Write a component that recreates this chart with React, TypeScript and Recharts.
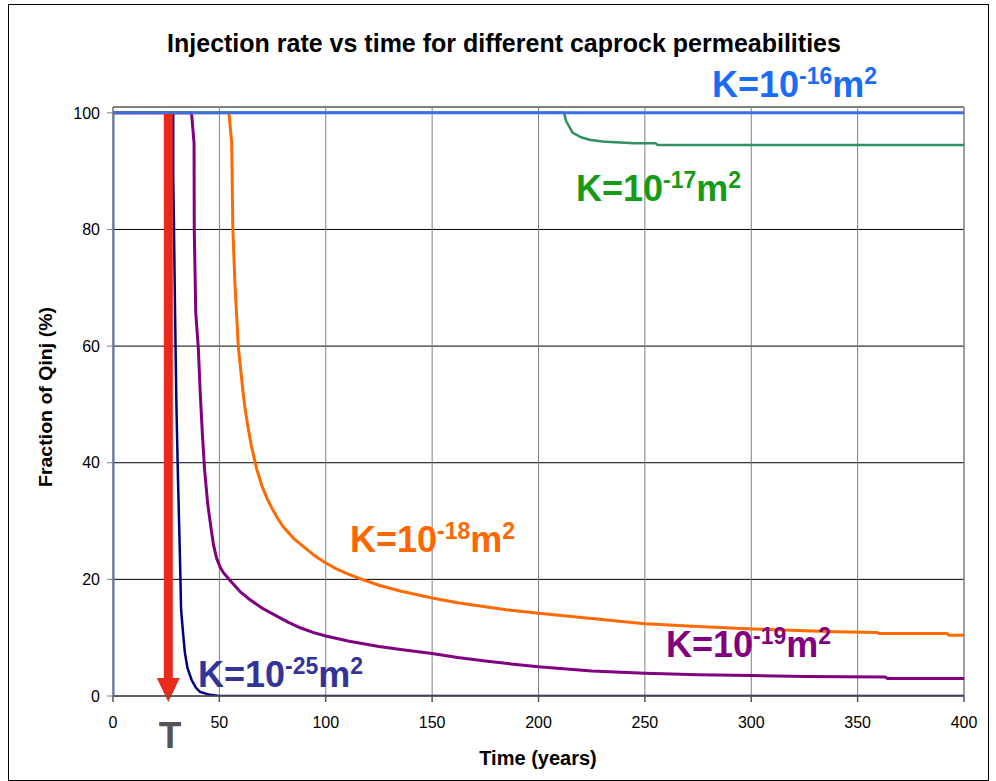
import { CartesianGrid, Line, LineChart, ReferenceArea, ReferenceLine, XAxis, YAxis } from "recharts";

const FONT = "'Liberation Sans', Arial, sans-serif";

const xTicks = [0, 50, 100, 150, 200, 250, 300, 350, 400];
const yTicks = [0, 20, 40, 60, 80, 100];

// K = 1e-16 m2
const k16Time = [0, 0, 400];
const k16Frac = [0, 100, 100];

// K = 1e-17 m2
const k17Time = [0, 212, 213, 216, 220, 224, 230, 234, 245, 255, 256, 300, 350, 400];
const k17Frac = [100, 100, 98.6, 96.6, 95.8, 95.4, 95.1, 95.0, 94.8, 94.8, 94.5, 94.5, 94.5, 94.5];

// K = 1e-18 m2
const k18Time = [0, 54.5, 55.8, 56.3, 57.3, 58.9, 60, 61, 62, 63.5, 65, 67.5, 70, 72.5, 75, 77.5, 80, 85, 90, 95, 100, 105, 110, 117, 125, 135, 150, 162, 175, 187, 200, 225, 250, 275, 300, 325, 340, 359, 360, 392, 393, 400];
const k18Frac = [100, 100, 94.8, 80.5, 70.8, 59.9, 56, 52.5, 49.5, 46, 43, 39, 36, 33.8, 32, 30.4, 29, 27, 25.5, 24, 22.8, 21.8, 21, 20, 19, 18, 16.8, 16, 15.3, 14.7, 14.2, 13.3, 12.4, 11.9, 11.5, 11.2, 11.0, 10.9, 10.7, 10.7, 10.4, 10.4];

// K = 1e-19 m2
const k19Time = [0, 36.9, 38.1, 38.2, 38.9, 40.1, 41, 42, 43, 44.5, 46, 47.2, 48.7, 50.5, 52, 55, 57.5, 60, 64.4, 70, 77, 82, 88, 94, 100, 111, 125, 137, 150, 162, 175, 187, 200, 225, 250, 275, 300, 325, 363, 364, 400];
const k19Frac = [100, 100, 94.8, 80, 65.7, 59.7, 52, 45, 39, 33, 29, 26, 23.6, 22.0, 21.1, 19.8, 18.8, 17.8, 16.5, 15.1, 13.7, 12.7, 11.7, 10.9, 10.3, 9.4, 8.5, 7.9, 7.3, 6.6, 6.0, 5.5, 5.0, 4.3, 3.9, 3.65, 3.5, 3.35, 3.26, 3.0, 3.0];

// K = 1e-25 m2
const k25Time = [0, 28.3, 28.3, 28.6, 29.2, 29.8, 30.5, 31.5, 32, 33, 33.8, 35, 37, 39, 40.9, 45.6, 50, 400];
const k25Frac = [100, 100, 89, 82, 65, 50, 38, 23.3, 14.8, 10.5, 7.4, 4.8, 2.7, 1.4, 0.7, 0.2, 0, 0];

const injectionTime = 26;

const toPoints = (t: number[], v: number[]) => t.map((x, i) => ({ t: x, v: v[i] }));

const RedArrow = (p: any) => {
  const { x1, y1, y2 } = p;
  const head = 18;
  return (
    <g>
      <rect x={x1 - 4.5} y={y1 + 1} width={9} height={y2 - head - y1 - 1} fill="#e8291c" />
      <polygon
        points={`${x1 - 11.5},${y2 - head} ${x1 + 11.5},${y2 - head} ${x1},${y2 + 6}`}
        fill="#e8291c"
      />
    </g>
  );
};

const KLabel = ({ x, y, exp, color }: { x: number; y: number; exp: string; color: string }) => (
  <text x={x} y={y} fill={color} fontFamily={FONT} fontWeight="bold" fontSize={36}>
    K=10
    <tspan dy={-13} fontSize={23}>{exp}</tspan>
    <tspan dy={13} fontSize={36}>m</tspan>
    <tspan dy={-13} fontSize={23}>2</tspan>
  </text>
);

export default function App() {
  return (
    <div style={{ position: "absolute", left: 0, top: 0, width: 996, height: 781, background: "#fff" }}>
      <div
        style={{
          position: "absolute",
          left: 8,
          top: 4,
          width: 981,
          height: 777,
          boxSizing: "border-box",
          border: "1px solid #000",
        }}
      />
      <div style={{ position: "absolute", left: 0, top: 0 }}>
        <LineChart width={996} height={781} margin={{ top: 107, right: 32, bottom: 55, left: 53 }}>
          <CartesianGrid horizontal vertical={false} stroke="#000" strokeWidth={1} />
          <CartesianGrid horizontal={false} stroke="#808080" strokeWidth={1} />
          <ReferenceArea x1={0} x2={400} y1={0} y2={101} fill="none" stroke="#808080" strokeWidth={1} />
          <XAxis
            type="number"
            dataKey="t"
            domain={[0, 400]}
            ticks={xTicks}
            height={30}
            stroke="#555"
            strokeWidth={1.5}
            tickSize={6}
            tickMargin={15}
            tick={{ fill: "#000", fontSize: 16, fontFamily: FONT }}
            allowDataOverflow
          />
          <YAxis
            type="number"
            dataKey="v"
            domain={[0, 101]}
            ticks={yTicks}
            width={60}
            stroke="#808080"
            tickSize={6}
            tickMargin={7}
            tick={{ fill: "#000", fontSize: 16, fontFamily: FONT }}
            allowDataOverflow
          />
          <Line data={toPoints(k25Time, k25Frac)} dataKey="v" stroke="#000080" strokeWidth={2.5} dot={false} isAnimationActive={false} type="linear" />
          <Line data={toPoints(k19Time, k19Frac)} dataKey="v" stroke="#800080" strokeWidth={3} dot={false} isAnimationActive={false} type="linear" />
          <Line data={toPoints(k18Time, k18Frac)} dataKey="v" stroke="#ff6a00" strokeWidth={3} dot={false} isAnimationActive={false} type="linear" />
          <Line data={toPoints(k17Time, k17Frac)} dataKey="v" stroke="#2f9060" strokeWidth={2.5} dot={false} isAnimationActive={false} type="linear" />
          <Line data={toPoints(k16Time, k16Frac)} dataKey="v" stroke="#3b6fe6" strokeWidth={3} dot={false} isAnimationActive={false} type="linear" />
          <ReferenceLine
            segment={[{ x: injectionTime, y: 100 }, { x: injectionTime, y: 0 }]}
            ifOverflow="visible"
            shape={RedArrow}
          />
        </LineChart>
      </div>
      <svg
        width={996}
        height={781}
        style={{ position: "absolute", left: 0, top: 0, pointerEvents: "none" }}
      >
        <text x={504} y={52} textAnchor="middle" fontFamily={FONT} fontWeight="bold" fontSize={25} fill="#000">
          Injection rate vs time for different caprock permeabilities
        </text>
        <text x={538} y={765} textAnchor="middle" fontFamily={FONT} fontWeight="bold" fontSize={20} fill="#000">
          Time (years)
        </text>
        <text
          x={0}
          y={0}
          transform="translate(52,397) rotate(-90)"
          textAnchor="middle"
          fontFamily={FONT}
          fontWeight="bold"
          fontSize={18}
          textLength={180}
          lengthAdjust="spacingAndGlyphs"
          fill="#000"
        >
          Fraction of Qinj (%)
        </text>
        <text x={170} y={748} textAnchor="middle" fontFamily={FONT} fontWeight="bold" fontSize={37} fill="#555">
          T
        </text>
        <KLabel x={712} y={97} exp="-16" color="#1a6cf5" />
        <KLabel x={576} y={201} exp="-17" color="#169b16" />
        <KLabel x={350} y={552} exp="-18" color="#ff6600" />
        <KLabel x={666} y={657} exp="-19" color="#800080" />
        <KLabel x={198} y={687} exp="-25" color="#333399" />
      </svg>
    </div>
  );
}
